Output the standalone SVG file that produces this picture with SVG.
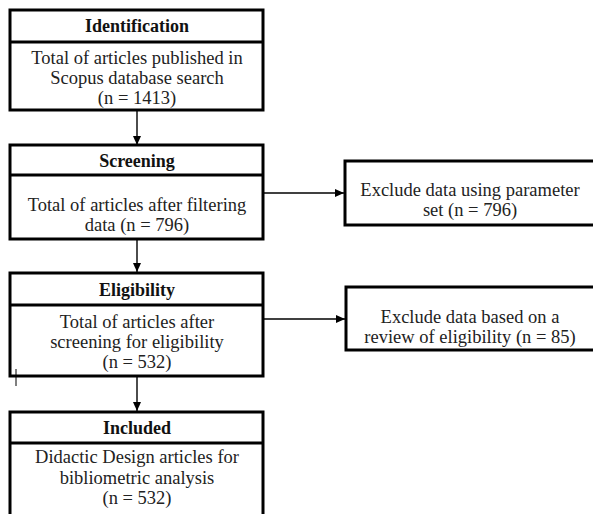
<svg xmlns="http://www.w3.org/2000/svg" width="593" height="514" viewBox="0 0 593 514">
<defs>
<marker id="ah" markerWidth="10" markerHeight="10" refX="9" refY="5" orient="auto" markerUnits="userSpaceOnUse">
<path d="M0,1 L9,5 L0,9 Z" fill="#000"/>
</marker>
<style>
.box{fill:#fff;stroke:#000;stroke-width:3}
.div{stroke:#000;stroke-width:3}
.hd{font-family:"Liberation Serif","Times New Roman",serif;font-size:18px;font-weight:bold;fill:#111;text-anchor:middle}
.tx{font-family:"Liberation Serif","Times New Roman",serif;font-size:18.5px;fill:#222;text-anchor:middle}
.cn{stroke:#000;stroke-width:1.4;fill:none}
</style>
</defs>
<rect width="593" height="514" fill="#fff"/>
<g id="connectors">
<line class="cn" x1="137" y1="111" x2="137" y2="145" marker-end="url(#ah)"/>
<line class="cn" x1="137" y1="240" x2="137" y2="272" marker-end="url(#ah)"/>
<line class="cn" x1="137" y1="377" x2="137" y2="411" marker-end="url(#ah)"/>
<line class="cn" x1="264" y1="193" x2="344" y2="193" marker-end="url(#ah)"/>
<line class="cn" x1="264" y1="319" x2="345" y2="319" marker-end="url(#ah)"/>
</g>
<g id="identification">
<rect class="box" x="10" y="10" width="253" height="100"/>
<line class="div" x1="10" y1="42" x2="263" y2="42"/>
<text class="hd" x="137" y="32">Identification</text>
<text class="tx" x="137" y="64">Total of articles published in</text>
<text class="tx" x="137" y="84">Scopus database search</text>
<text class="tx" x="137" y="104">(n = 1413)</text>
</g>
<g id="screening">
<rect class="box" x="10" y="145" width="253" height="94"/>
<line class="div" x1="10" y1="175" x2="263" y2="175"/>
<text class="hd" x="137" y="167">Screening</text>
<text class="tx" x="137" y="211">Total of articles after filtering</text>
<text class="tx" x="137" y="231">data (n = 796)</text>
</g>
<g id="exclude1">
<rect class="box" x="345" y="161" width="258" height="64"/>
<text class="tx" x="470" y="196">Exclude data using parameter</text>
<text class="tx" x="470" y="216">set (n = 796)</text>
</g>
<g id="eligibility">
<rect class="box" x="10" y="273" width="253" height="103"/>
<line class="div" x1="10" y1="305" x2="263" y2="305"/>
<text class="hd" x="137" y="296">Eligibility</text>
<text class="tx" x="137" y="328">Total of articles after</text>
<text class="tx" x="137" y="348">screening for eligibility</text>
<text class="tx" x="137" y="368">(n = 532)</text>
</g>
<g id="exclude2">
<rect class="box" x="346" y="287" width="258" height="63"/>
<text class="tx" x="470" y="323">Exclude data based on a</text>
<text class="tx" x="470" y="343">review of eligibility (n = 85)</text>
</g>
<g id="included">
<rect class="box" x="10" y="412" width="253" height="106"/>
<line class="div" x1="10" y1="443" x2="263" y2="443"/>
<text class="hd" x="137" y="434">Included</text>
<text class="tx" x="137" y="463">Didactic Design articles for</text>
<text class="tx" x="137" y="484">bibliometric analysis</text>
<text class="tx" x="137" y="504">(n = 532)</text>
</g>
<line x1="16" y1="369" x2="16" y2="386" stroke="#000" stroke-width="1"/>
</svg>
